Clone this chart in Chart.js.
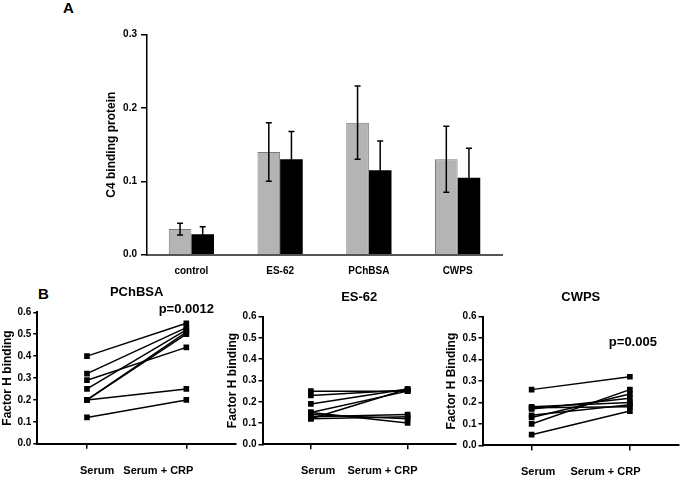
<!DOCTYPE html>
<html>
<head>
<meta charset="utf-8">
<script src="https://cdn.jsdelivr.net/npm/chart.js@4.4.1/dist/chart.umd.min.js"></script>
<style>
  html, body { margin: 0; padding: 0; background: #fff; overflow: hidden; }
  #page { position: relative; width: 683px; height: 477px; }
  .box { position: absolute; }
  .panel-letter { position: absolute; font: bold 15px 'Liberation Sans', Arial, sans-serif; color: #000; }
</style>
</head>
<body>
<div id="page">
  <div class="panel-letter" style="left:63px; top:-1px;">A</div>
  <div class="box" style="left:0; top:0; width:683px; height:280px;"><canvas id="chart-c4"></canvas></div>

  <div class="panel-letter" style="left:38px; top:285px;">B</div>
  <div class="box" style="left:0; top:280px; width:240px; height:199px;"><canvas id="chart-pchbsa"></canvas></div>
  <div class="box" style="left:225px; top:280px; width:235px; height:199px;"><canvas id="chart-es62"></canvas></div>
  <div class="box" style="left:444px; top:280px; width:239px; height:199px;"><canvas id="chart-cwps"></canvas></div>
</div>

<script>
const FONT = "'Liberation Sans', Arial, sans-serif";

// Painel A - C4 binding protein
const c4Categories = ['control', 'ES-62', 'PChBSA', 'CWPS'];
const c4Grey = [0.035, 0.14, 0.18, 0.13];
const c4GreyErr = [0.008, 0.04, 0.05, 0.045];
const c4Black = [0.028, 0.13, 0.115, 0.105];
const c4BlackErr = [0.010, 0.038, 0.040, 0.040];
const c4Ticks = [0, 0.1, 0.2, 0.3];

// Painel B - Factor H binding, pares Serum / Serum + CRP
const pairLabels = ['Serum', 'Serum + CRP'];
const factorTicks = [0, 0.1, 0.2, 0.3, 0.4, 0.5, 0.6];
const pchSerum = [0.40, 0.32, 0.29, 0.25, 0.20, 0.20, 0.20, 0.12];
const pchCrp   = [0.55, 0.53, 0.44, 0.52, 0.51, 0.50, 0.25, 0.20];
const esSerum = [0.25, 0.23, 0.19, 0.15, 0.12, 0.15, 0.14, 0.13, 0.12];
const esCrp   = [0.25, 0.255, 0.26, 0.25, 0.26, 0.10, 0.12, 0.14, 0.13];
const cwSerum = [0.26, 0.18, 0.175, 0.17, 0.14, 0.13, 0.10, 0.05];
const cwCrp   = [0.32, 0.20, 0.18, 0.22, 0.19, 0.24, 0.26, 0.16];

Chart.defaults.font.family = FONT;
Chart.defaults.font.weight = 'bold';
Chart.defaults.color = '#000';

// desenha as barras de erro por cima das barras
const errorBars = {
    id: 'errorBars',
    afterDatasetsDraw(chart) {
        const ctx = chart.ctx;
        const y = chart.scales.y;
        chart.data.datasets.forEach((ds, di) => {
            if (!ds.errors) return;
            chart.getDatasetMeta(di).data.forEach((bar, i) => {
                const top = y.getPixelForValue(ds.data[i] + ds.errors[i]);
                const bot = y.getPixelForValue(ds.data[i] - ds.errors[i]);
                ctx.save();
                ctx.strokeStyle = '#000';
                ctx.lineWidth = 1.5;
                ctx.beginPath();
                ctx.moveTo(bar.x, top); ctx.lineTo(bar.x, bot);
                ctx.moveTo(bar.x - 3, top); ctx.lineTo(bar.x + 3, top);
                ctx.moveTo(bar.x - 3, bot); ctx.lineTo(bar.x + 3, bot);
                ctx.stroke();
                ctx.restore();
            });
        });
    }
};

// texto do p-valor, posicionado pelas escalas
const pValue = {
    id: 'pValue',
    afterDraw(chart, args, opts) {
        if (!opts || !opts.text) return;
        const { ctx, scales: { x, y } } = chart;
        ctx.save();
        ctx.font = 'bold 13px ' + FONT;
        ctx.fillStyle = '#000';
        ctx.textAlign = 'center';
        ctx.textBaseline = 'middle';
        ctx.fillText(opts.text, x.getPixelForValue(1) + (opts.dx || 0), y.getPixelForValue(opts.y));
        ctx.restore();
    }
};

new Chart(document.getElementById('chart-c4'), {
    type: 'bar',
    data: {
        labels: c4Categories,
        datasets: [
            { data: c4Grey, errors: c4GreyErr, backgroundColor: '#b4b4b4', borderColor: '#7a7a7a', borderWidth: 1, borderSkipped: 'bottom' },
            { data: c4Black, errors: c4BlackErr, backgroundColor: '#000', borderColor: '#000', borderWidth: 0 }
        ]
    },
    options: {
        responsive: true,
        maintainAspectRatio: false,
        animation: false,
        categoryPercentage: 0.51,
        barPercentage: 1,
        layout: { padding: { left: 104, right: 181, top: 34.7, bottom: 5.3 } },
        plugins: { legend: { display: false }, tooltip: { enabled: false } },
        scales: {
            x: {
                grid: { display: false },
                border: { color: '#555', width: 2 },
                ticks: { font: { size: 10, weight: 'bold' }, padding: 3 },
                afterFit: s => { s.height = 20; }
            },
            y: {
                min: 0, max: 0.3,
                afterBuildTicks: s => { s.ticks = c4Ticks.map(v => ({ value: v })); },
                ticks: { font: { size: 10, weight: 'bold' }, padding: 4, callback: v => v.toFixed(1) },
                grid: { drawOnChartArea: false, tickLength: 6, color: '#000', lineWidth: 1.5 },
                border: { color: '#000', width: 1.5 },
                title: { display: true, text: 'C4 binding protein', font: { size: 12, weight: 'bold' }, padding: 0 },
                afterFit: s => { s.width = 43; }
            }
        }
    },
    plugins: [errorBars]
});

function factorHChart(id, title, yTitle, serum, crp, cfg) {
    return new Chart(document.getElementById(id), {
        type: 'line',
        data: {
            labels: pairLabels,
            datasets: serum.map((s, i) => ({
                data: [s, crp[i]],
                borderColor: '#000',
                backgroundColor: '#000',
                borderWidth: 1.5,
                pointStyle: 'rect',
                pointRadius: 4,
                pointBorderWidth: 0,
                tension: 0
            }))
        },
        options: {
            responsive: true,
            maintainAspectRatio: false,
            animation: false,
            layout: { padding: cfg.padding },
            plugins: {
                legend: { display: false },
                tooltip: { enabled: false },
                title: { display: true, text: title, fullSize: false, font: { size: 13, weight: 'bold' }, color: '#000', padding: cfg.titlePadding },
                pValue: cfg.pValue
            },
            scales: {
                x: {
                    offset: true,
                    grid: { drawOnChartArea: false, tickLength: 5, color: '#000', lineWidth: 1.5 },
                    border: { color: '#000', width: 2 },
                    ticks: { display: false },
                    title: { display: true, text: pairLabels.join(cfg.gap), font: { size: 11, weight: 'bold' }, padding: 0 },
                    afterFit: s => { s.height = cfg.xHeight; }
                },
                y: {
                    min: 0, max: 0.6,
                    afterBuildTicks: s => { s.ticks = factorTicks.map(v => ({ value: v })); },
                    ticks: { font: { size: 10, weight: 'bold' }, padding: 2, callback: v => v.toFixed(1) },
                    grid: { drawOnChartArea: false, tickLength: 4, color: '#000', lineWidth: 1.5 },
                    border: { color: '#000', width: 2 },
                    title: { display: true, text: yTitle, font: { size: 12, weight: 'bold' }, padding: 0 },
                    afterFit: s => { s.width = cfg.yWidth; }
                }
            }
        },
        plugins: [pValue]
    });
}

factorHChart('chart-pchbsa', 'PChBSA', 'Factor H binding', pchSerum, pchCrp, {
    padding: { left: 0, right: 3, top: 0, bottom: 1.7 },
    titlePadding: { top: 4.9, bottom: 11.8 },
    xHeight: 33.6, yWidth: 37.3, gap: '   ',
    pValue: { text: 'p=0.0012', y: 0.614, dx: 0 }
});

factorHChart('chart-es62', 'ES-62', 'Factor H binding', esSerum, esCrp, {
    padding: { left: 0.8, right: 2, top: 0, bottom: 1.7 },
    titlePadding: { top: 9.5, bottom: 11.6 },
    xHeight: 33, yWidth: 36.7, gap: '    ',
    pValue: false
});

factorHChart('chart-cwps', 'CWPS', 'Factor H Binding', cwSerum, cwCrp, {
    padding: { left: 0.5, right: 0, top: 0, bottom: 0 },
    titlePadding: { top: 9.5, bottom: 11.6 },
    xHeight: 33.6, yWidth: 38, gap: '     ',
    pValue: { text: 'p=0.005', y: 0.481, dx: 3 }
});
</script>
</body>
</html>
